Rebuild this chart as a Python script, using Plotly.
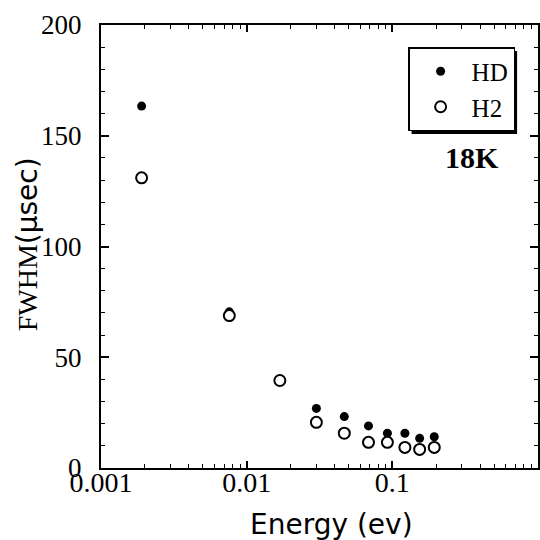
import plotly.graph_objects as go

# Data
energy = [0.0019, 0.0076, 0.0169, 0.0301, 0.0468, 0.0686, 0.0925, 0.122, 0.154, 0.194]
fwhm_hd = [163.4, 70.5, 40.0, 26.9, 23.2, 19.0, 15.7, 15.7, 13.4, 14.1]
fwhm_h2 = [131.0, 68.8, 39.5, 20.6, 15.7, 11.6, 11.6, 9.3, 8.4, 9.3]
x_tickvals = [0.001, 0.01, 0.1]
x_ticktext = ["0.001", "0.01", "0.1"]

SERIF = "Liberation Serif"
SANS = "DejaVu Sans"

fig = go.Figure()
fig.add_trace(go.Scatter(
    x=energy, y=fwhm_hd, mode="markers", name="HD",
    marker=dict(symbol="circle", size=9, color="black", line=dict(width=0)),
))
fig.add_trace(go.Scatter(
    x=energy, y=fwhm_h2, mode="markers", name="H2",
    marker=dict(symbol="circle", size=11, color="white", line=dict(color="black", width=2)),
))

L, R, T, B = 101, 0, 25, 72
W = H = 540
pw = W - L - R
ph = H - T - B

def px(xp):
    return (xp - L) / pw

def py(yp):
    return (H - B - yp) / ph

fig.update_layout(
    width=W, height=H,
    margin=dict(l=L, r=R, t=T, b=B, pad=0),
    paper_bgcolor="white", plot_bgcolor="white",
    font=dict(family=SERIF, size=27, color="black"),
    showlegend=True,
    legend=dict(
        x=px(517), y=py(47), xanchor="right", yanchor="top",
        bgcolor="white", bordercolor="black", borderwidth=1.5,
        font=dict(family=SERIF, size=25, color="black"),
        itemsizing="trace", itemwidth=52, tracegroupgap=0,
    ),
    xaxis=dict(
        type="log", range=[-3, 0],
        tickvals=x_tickvals, ticktext=x_ticktext,
        ticks="inside", ticklen=7, tickwidth=1.5, tickcolor="black",
        minor=dict(dtick="D1", ticks="inside", ticklen=4, tickwidth=1.2, tickcolor="black", showgrid=False),
        showline=True, linecolor="black", linewidth=2, mirror="allticks",
        showgrid=False, zeroline=False,
        tickfont=dict(family=SERIF, size=28, color="black"),
        ticklabelstandoff=-12,
    ),
    yaxis=dict(
        range=[0, 200], dtick=50, tick0=0,
        ticks="inside", ticklen=8, tickwidth=1.5, tickcolor="black",
        minor=dict(dtick=10, ticks="inside", ticklen=4, tickwidth=1.2, tickcolor="black", showgrid=False),
        showline=True, linecolor="black", linewidth=2, mirror="allticks",
        showgrid=False, zeroline=False,
        tickfont=dict(family=SERIF, size=27, color="black"),
        ticklabelstandoff=12,
    ),
    shapes=[
        dict(type="rect", xref="paper", yref="paper",
             x0=px(413), x1=px(519), y0=py(134), y1=py(51),
             fillcolor="black", line=dict(width=0), layer="above"),
    ],
    annotations=[
        dict(text="<b>18K</b>", xref="paper", yref="paper", x=px(474), y=py(157),
             showarrow=False, xanchor="center", yanchor="middle",
             font=dict(family=SERIF, size=30, color="black")),
        dict(text="Energy (ev)", xref="paper", yref="paper", x=px(333), y=py(524),
             showarrow=False, xanchor="center", yanchor="middle",
             font=dict(family=SANS, size=28, color="black")),
        dict(text="<span style='font-family:Liberation Serif'>FWHM</span>(\u00b5sec)",
             xref="paper", yref="paper", x=px(27), y=py(244),
             showarrow=False, xanchor="center", yanchor="middle", textangle=-90,
             font=dict(family=SANS, size=28, color="black")),
    ],
)

fig.write_html("out.html")
